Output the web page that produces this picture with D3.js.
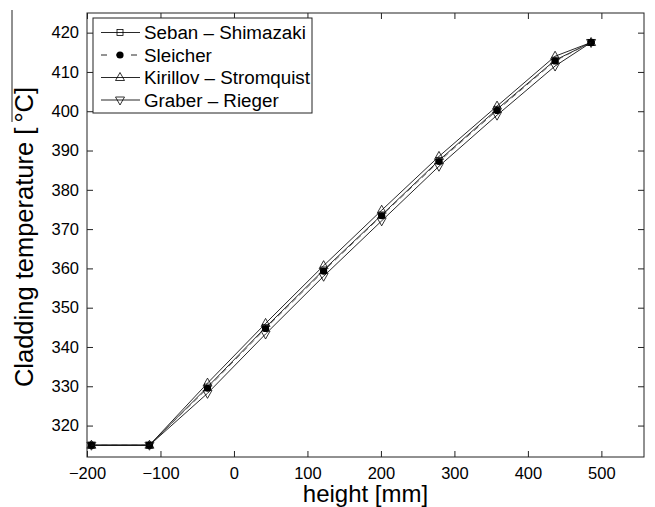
<!DOCTYPE html>
<html>
<head>
<meta charset="utf-8">
<script src="https://cdn.jsdelivr.net/npm/d3@7"></script>
<style>
  body { margin: 0; background: #fff; }
  svg { font-family: "Liberation Sans", Arial, sans-serif; }
  .tick text { font-size: 16.5px; fill: #000; }
  .xtitle { font-size: 24px; fill: #000; }
  .ytitle { font-size: 25.5px; fill: #000; }
  .legendtext { font-size: 18.8px; fill: #000; }
</style>
</head>
<body>
<script>
// values
var heights = [-194, -115, -36, 43, 122, 201, 279, 358, 437, 486];
var sebanShimazaki = [315, 315, 329.8, 345.0, 359.6, 373.6, 387.5, 400.5, 413.0, 417.5];
var sleicher = [315, 315, 329.5, 344.7, 359.3, 373.4, 387.2, 400.2, 412.8, 417.5];
var kirillovStromquist = [315, 315, 330.8, 346.0, 360.7, 374.8, 388.5, 401.3, 414.0, 417.5];
var graberRieger = [315, 315, 328.2, 343.3, 358.0, 372.1, 386.0, 399.0, 411.5, 417.5];
var seriesNames = ["Seban \u2013 Shimazaki", "Sleicher", "Kirillov \u2013 Stromquist", "Graber \u2013 Rieger"];
var xTicks = [-200, -100, 0, 100, 200, 300, 400, 500];
var yTicks = [320, 330, 340, 350, 360, 370, 380, 390, 400, 410, 420];

var width = 655, height = 507;
var plotLeft = 87, plotRight = 644, plotTop = 13, plotBottom = 457;

var svg = d3.select("body").append("svg")
  .attr("width", width)
  .attr("height", height);

var x = d3.scaleLinear().domain([-200, 558]).range([plotLeft, plotRight]);
var y = d3.scaleLinear().domain([312, 425]).range([plotBottom, plotTop]);

var fmt = function(d) { return String(d).replace("-", "\u2212"); };

// axes, matlab style ticks pointing inward
svg.append("g")
  .attr("transform", "translate(0," + plotBottom + ")")
  .call(d3.axisBottom(x).tickValues(xTicks).tickSize(-6).tickPadding(10).tickFormat(fmt))
  .call(function(g) { g.select(".domain").remove(); });
svg.append("g")
  .attr("transform", "translate(0," + plotTop + ")")
  .call(d3.axisTop(x).tickValues(xTicks).tickSize(-6).tickFormat(""))
  .call(function(g) { g.select(".domain").remove(); });
svg.append("g")
  .attr("transform", "translate(" + plotLeft + ",0)")
  .call(d3.axisLeft(y).tickValues(yTicks).tickSize(-6).tickPadding(8))
  .call(function(g) { g.select(".domain").remove(); });
svg.append("g")
  .attr("transform", "translate(" + plotRight + ",0)")
  .call(d3.axisRight(y).tickValues(yTicks).tickSize(-6).tickFormat(""))
  .call(function(g) { g.select(".domain").remove(); });

svg.selectAll(".tick line").attr("stroke", "#222");

svg.append("rect")
  .attr("x", plotLeft)
  .attr("y", plotTop)
  .attr("width", plotRight - plotLeft)
  .attr("height", plotBottom - plotTop)
  .attr("fill", "none")
  .attr("stroke", "#222")
  .attr("stroke-width", 1);

svg.append("text")
  .attr("class", "xtitle")
  .attr("x", (plotLeft + plotRight) / 2)
  .attr("y", 502)
  .attr("text-anchor", "middle")
  .text("height [mm]");

svg.append("text")
  .attr("class", "ytitle")
  .attr("transform", "translate(33,237) rotate(-90)")
  .attr("text-anchor", "middle")
  .text("Cladding temperature [\u2009\u00b0C]");

// stray line left of the y title
svg.append("line")
  .attr("x1", 12).attr("x2", 12)
  .attr("y1", 10).attr("y2", 122)
  .attr("stroke", "#222");

// marker shapes
var markers = {
  square: function(g, cx, cy) {
    g.append("rect").attr("x", cx - 3).attr("y", cy - 3).attr("width", 6).attr("height", 6)
      .attr("fill", "none").attr("stroke", "#000").attr("stroke-width", 0.8);
  },
  dot: function(g, cx, cy) {
    g.append("circle").attr("cx", cx).attr("cy", cy).attr("r", 3.6).attr("fill", "#000");
  },
  up: function(g, cx, cy) {
    g.append("path").attr("d", "M" + cx + "," + (cy - 5) + "L" + (cx + 4.5) + "," + (cy + 3) + "L" + (cx - 4.5) + "," + (cy + 3) + "Z")
      .attr("fill", "none").attr("stroke", "#000").attr("stroke-width", 0.8);
  },
  down: function(g, cx, cy) {
    g.append("path").attr("d", "M" + cx + "," + (cy + 5) + "L" + (cx + 4.5) + "," + (cy - 3) + "L" + (cx - 4.5) + "," + (cy - 3) + "Z")
      .attr("fill", "none").attr("stroke", "#000").attr("stroke-width", 0.8);
  }
};

var series = [
  { name: seriesNames[0], values: sebanShimazaki, dash: null, marker: "square" },
  { name: seriesNames[1], values: sleicher, dash: "6,4", marker: "dot" },
  { name: seriesNames[2], values: kirillovStromquist, dash: null, marker: "up" },
  { name: seriesNames[3], values: graberRieger, dash: null, marker: "down" }
];

var line = d3.line()
  .x(function(d) { return x(d[0]); })
  .y(function(d) { return y(d[1]); });

series.forEach(function(s) {
  var pts = heights.map(function(h, i) { return [h, s.values[i]]; });
  svg.append("path")
    .datum(pts)
    .attr("d", line)
    .attr("fill", "none")
    .attr("stroke", s.dash ? "#555" : "#111")
    .attr("stroke-width", 0.9)
    .attr("stroke-dasharray", s.dash);
  var g = svg.append("g");
  pts.forEach(function(p) { markers[s.marker](g, x(p[0]), y(p[1])); });
});

// legend
var legendX = 93, legendY = 18;
var legend = svg.append("g");
legend.append("rect")
  .attr("x", legendX)
  .attr("y", legendY)
  .attr("width", 219)
  .attr("height", 95)
  .attr("fill", "#fff")
  .attr("stroke", "#222");

series.forEach(function(s, i) {
  var cy = legendY + 14.5 + i * 22.5;
  legend.append("line")
    .attr("x1", legendX + 8).attr("x2", legendX + 47)
    .attr("y1", cy).attr("y2", cy)
    .attr("stroke", "#111")
    .attr("stroke-width", 0.9)
    .attr("stroke-dasharray", s.dash ? "6,9" : null);
  markers[s.marker](legend, legendX + 27, cy);
  legend.append("text")
    .attr("class", "legendtext")
    .attr("x", legendX + 51)
    .attr("y", cy + 6.6)
    .text(s.name);
});
</script>
</body>
</html>
